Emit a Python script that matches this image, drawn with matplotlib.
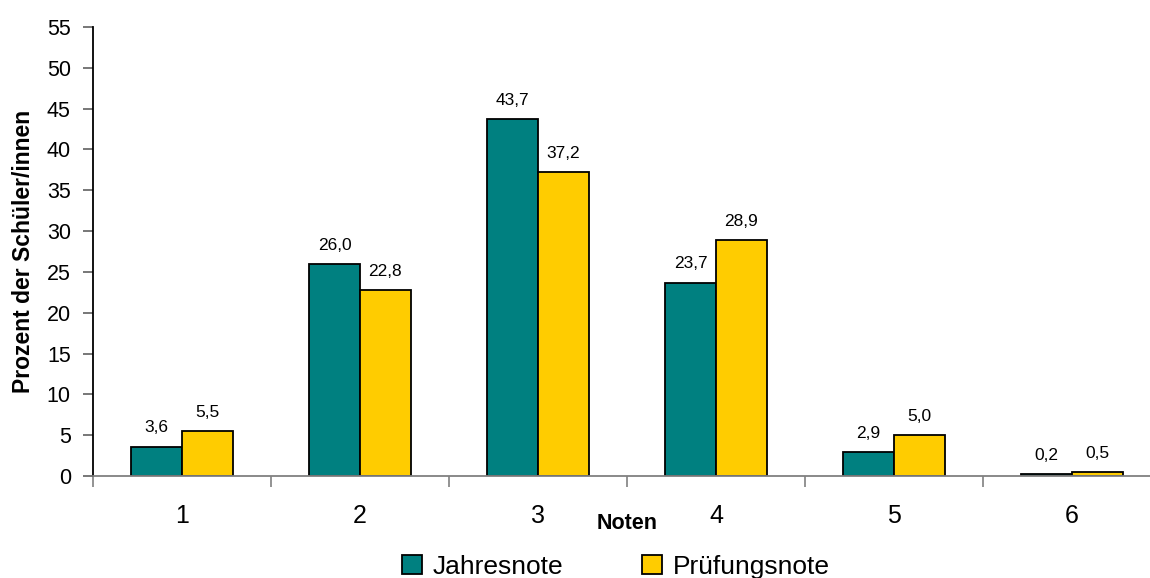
import numpy as np
import matplotlib
matplotlib.use('Agg')
import matplotlib.pyplot as plt

# Notenverteilung in Prozent
noten = ['1', '2', '3', '4', '5', '6']
jahresnote = [3.6, 26.0, 43.7, 23.7, 2.9, 0.2]
pruefungsnote = [5.5, 22.8, 37.2, 28.9, 5.0, 0.5]

plt.rcParams['font.family'] = ['Liberation Sans', 'DejaVu Sans']

fig = plt.figure(figsize=(11.5, 5.78), dpi=100)
ax = fig.add_axes([93/1150, 102/578, 1068/1150, 449/578])

x = np.arange(len(noten))
w = 0.285
b1 = ax.bar(x - w/2, jahresnote, w, color='#008080', edgecolor='black', linewidth=1.3, label='Jahresnote')
b2 = ax.bar(x + w/2, pruefungsnote, w, color='#FFCC00', edgecolor='black', linewidth=1.3, label='Prüfungsnote')

# Werte über den Balken
for bars, vals in [(b1, jahresnote), (b2, pruefungsnote)]:
    for rect, v in zip(bars, vals):
        ax.annotate(('%.1f' % v).replace('.', ','),
                    (rect.get_x() + rect.get_width()/2, v),
                    xytext=(0, 8), textcoords='offset points',
                    ha='center', va='bottom', fontsize=12.5)

ax.set_xlim(-0.5, len(noten) - 0.5)
ax.set_ylim(0, 55)
ax.set_yticks(np.arange(0, 56, 5))

# Kategorien in der Mitte, Striche zwischen den Gruppen
ax.set_xticks(x)
ax.set_xticklabels(noten)
ax.set_xticks(np.arange(-0.5, len(noten), 1), minor=True)
ax.tick_params(axis='x', which='major', length=0, pad=20, labelsize=18)
ax.tick_params(axis='x', which='minor', length=8, width=1.2, color='#808080')
ax.tick_params(axis='y', length=7, width=1.2, color='#606060', pad=9, labelsize=15.5)

for s in ['top', 'right']:
    ax.spines[s].set_visible(False)
ax.spines['bottom'].set_color('#808080')
ax.spines['bottom'].set_linewidth(1.3)
ax.spines['left'].set_linewidth(1.3)

xl = ax.set_xlabel('Noten', fontsize=15.5, fontweight='bold')
xl.set_va('center')
ax.xaxis.set_label_coords(0.5, -0.105)
yl = ax.set_ylabel('Prozent der Schüler/innen', fontsize=16.5, fontweight='bold')
yl.set_va('center')
ax.yaxis.set_label_coords(-0.0655, 0.5)

fig.legend(handles=[b1, b2], loc='center', bbox_to_anchor=(616/1150, 11/578),
           ncol=2, frameon=False, fontsize=19, handlelength=0.75, handleheight=0.75,
           handletextpad=0.4, columnspacing=3.0, borderaxespad=0)

plt.savefig('out.png', dpi=100)
